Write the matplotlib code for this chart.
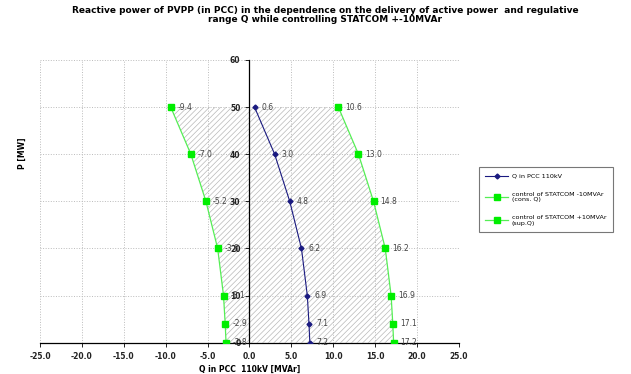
import matplotlib
matplotlib.use("Agg")
import matplotlib.pyplot as plt

# active power levels [MW]
p_mw = [50, 40, 30, 20, 10, 4, 0]
# reactive power in PCC 110kV [MVAr]
q_pcc = [0.6, 3.0, 4.8, 6.2, 6.9, 7.1, 7.2]
# STATCOM -10MVAr (cons. Q)
q_cons = [-9.4, -7.0, -5.2, -3.8, -3.1, -2.9, -2.8]
# STATCOM +10MVAr (sup. Q)
q_sup = [10.6, 13.0, 14.8, 16.2, 16.9, 17.1, 17.2]

x_ticks = [-25, -20, -15, -10, -5, 0, 5, 10, 15, 20, 25]
y_ticks = [0, 10, 20, 30, 40, 50, 60]

plt.rcParams["hatch.linewidth"] = 0.5

fig = plt.figure(figsize=(6.31, 3.74), dpi=100)
ax = fig.add_axes([0.0634, 0.0837, 0.664, 0.756])

# hatched regulative range
ax.fill_betweenx(p_mw, q_cons, q_sup, facecolor="none", edgecolor="#b8b8b8",
                 hatch="//////", linewidth=0, zorder=1)

ax.plot(q_pcc, p_mw, "-D", color="#1a1a80", markersize=2.5, linewidth=0.8,
        label="Q in PCC 110kV", zorder=3)
ax.plot(q_cons, p_mw, "-s", color="#55ee55", markerfacecolor="#00ee00",
        markeredgecolor="#00ee00", markersize=4, linewidth=0.9,
        label="control of STATCOM -10MVAr\n(cons. Q)", zorder=3)
ax.plot(q_sup, p_mw, "-s", color="#55ee55", markerfacecolor="#00ee00",
        markeredgecolor="#00ee00", markersize=4, linewidth=0.9,
        label="control of STATCOM +10MVAr\n(sup.Q)", zorder=3)

for xs in (q_pcc, q_cons, q_sup):
    for q, p in zip(xs, p_mw):
        ax.annotate(f"{q:.1f}", (q, p), xytext=(5, 0), textcoords="offset points",
                    fontsize=5.5, color="#444444", va="center", ha="left", zorder=4)

ax.set_xlim(-25, 25)
ax.set_ylim(0, 60)
ax.set_xticks(x_ticks)
ax.set_xticklabels([f"{v:.1f}" for v in x_ticks])
ax.set_yticks(y_ticks)
ax.grid(True, linestyle=":", color="#bbbbbb", linewidth=0.7, zorder=0)

ax.spines["left"].set_position(("data", 0))
ax.spines["right"].set_visible(False)
ax.spines["top"].set_visible(False)
ax.spines["left"].set_linewidth(0.9)
ax.spines["bottom"].set_linewidth(0.9)
ax.tick_params(labelsize=5.5, length=3, width=0.7, colors="#222222")
for lbl in ax.get_xticklabels() + ax.get_yticklabels():
    lbl.set_fontweight("bold")

ax.set_xlabel("Q in PCC  110kV [MVAr]", fontsize=5.5, fontweight="bold", labelpad=3)
fig.text(0.035, 0.59, "P [MW]", rotation=90, fontsize=5.5, fontweight="bold",
         ha="center", va="center")

fig.suptitle("Reactive power of PVPP (in PCC) in the dependence on the delivery of active power  and regulative\n"
             "range Q while controlling STATCOM +-10MVAr",
             x=0.515, y=0.985, fontsize=6.5, fontweight="bold", linespacing=1.1)

leg = ax.legend(loc="upper left", bbox_to_anchor=(0.754, 0.562),
                bbox_transform=fig.transFigure, fontsize=4.6, frameon=True,
                fancybox=False, edgecolor="#555555", labelspacing=2.0,
                handlelength=3.5, borderpad=1.0, handletextpad=0.6)
leg.get_frame().set_linewidth(0.8)

fig.savefig("out.png", dpi=100)
